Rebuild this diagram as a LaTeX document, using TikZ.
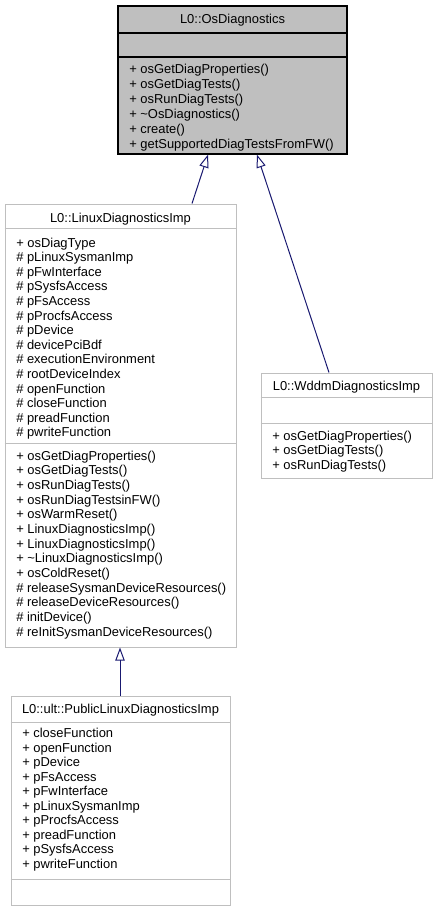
\documentclass[tikz,border=0pt]{standalone}
\usepackage{fontspec}
\setmainfont{Liberation Sans}
\usetikzlibrary{arrows.meta,fit}

\definecolor{grey75}{HTML}{BFBFBF}
\definecolor{midnightblue}{HTML}{191970}

\tikzset{
  classbox/.style={draw=grey75, fill=white, line width=0.75pt, inner sep=0pt},
  mainbox/.style={draw=black, fill=grey75, line width=0.9pt, inner sep=0pt},
  classname/.style={anchor=base, inner sep=0pt, font=\fontsize{9.7}{11}\selectfont},
  member/.style={anchor=base west, inner sep=0pt, font=\fontsize{9.7}{11}\selectfont},
  inherit/.style={draw=midnightblue, line width=0.75pt, -{Triangle[open, length=9.75pt, width=7pt]}}
}

\begin{document}
\begin{tikzpicture}[x=0.75pt, y=-0.75pt]

\useasboundingbox (0,0) rectangle (437,911);

% L0::OsDiagnostics
\node[mainbox, fit={(118,6) (347,154)}] (os) {};
\draw[line width=0.9pt] (os.west |- 0,33) -- (os.east |- 0,33);
\draw[line width=0.9pt] (os.west |- 0,57) -- (os.east |- 0,57);
\node[classname] (os-name) at (232.5,23) {L0::OsDiagnostics};
\foreach \m [count=\i] in {+ osGetDiagProperties(), + osGetDiagTests(),
    + osRunDiagTests(), + \textasciitilde OsDiagnostics(), + create(),
    + getSupportedDiagTestsFromFW()}
  \node[member] (os-m\i) at (129,{73+15*(\i-1)}) {\m};

% L0::LinuxDiagnosticsImp
\node[classbox, fit={(5,204) (236,647)}] (linux) {};
\draw[grey75, line width=0.75pt] (linux.west |- 0,228) -- (linux.east |- 0,228);
\draw[grey75, line width=0.75pt] (linux.west |- 0,443) -- (linux.east |- 0,443);
\node[classname] (linux-name) at (120.5,222) {L0::LinuxDiagnosticsImp};
\foreach \a [count=\i] in {+ osDiagType, \# pLinuxSysmanImp, \# pFwInterface,
    \# pSysfsAccess, \# pFsAccess, \# pProcfsAccess, \# pDevice,
    \# devicePciBdf, \# executionEnvironment, \# rootDeviceIndex,
    \# openFunction, \# closeFunction, \# preadFunction, \# pwriteFunction}
  \node[member] (linux-a\i) at (16,{247+14.6*(\i-1)}) {\a};
\foreach \m [count=\i] in {+ osGetDiagProperties(), + osGetDiagTests(),
    + osRunDiagTests(), + osRunDiagTestsinFW(), + osWarmReset(),
    + LinuxDiagnosticsImp(), + LinuxDiagnosticsImp(),
    + \textasciitilde LinuxDiagnosticsImp(), + osColdReset(),
    \# releaseSysmanDeviceResources(), \# releaseDeviceResources(),
    \# initDevice(), \# reInitSysmanDeviceResources()}
  \node[member] (linux-m\i) at (16,{460+14.67*(\i-1)}) {\m};

% L0::WddmDiagnosticsImp
\node[classbox, fit={(261,373) (432,478)}] (wddm) {};
\draw[grey75, line width=0.75pt] (wddm.west |- 0,397) -- (wddm.east |- 0,397);
\draw[grey75, line width=0.75pt] (wddm.west |- 0,423) -- (wddm.east |- 0,423);
\node[classname] (wddm-name) at (346.5,390) {L0::WddmDiagnosticsImp};
\foreach \m [count=\i] in {+ osGetDiagProperties(), + osGetDiagTests(),
    + osRunDiagTests()}
  \node[member] (wddm-m\i) at (272,{440+14.6*(\i-1)}) {\m};

% L0::ult::PublicLinuxDiagnosticsImp
\node[classbox, fit={(11,696) (230,905)}] (public) {};
\draw[grey75, line width=0.75pt] (public.west |- 0,722) -- (public.east |- 0,722);
\draw[grey75, line width=0.75pt] (public.west |- 0,879) -- (public.east |- 0,879);
\node[classname] (public-name) at (120.5,713) {L0::ult::PublicLinuxDiagnosticsImp};
\foreach \a [count=\i] in {+ closeFunction, + openFunction, + pDevice,
    + pFsAccess, + pFwInterface, + pLinuxSysmanImp, + pProcfsAccess,
    + preadFunction, + pSysfsAccess, + pwriteFunction}
  \node[member] (public-a\i) at (22,{737.5+14.55*(\i-1)}) {\a};

% inheritance
\draw[inherit] (linux.north -| 192,0) -- (os.south -| 208,0);
\draw[inherit] (wddm.north -| 329,0) -- (os.south -| 257,0);
\draw[inherit] (public.north -| 120,0) -- (linux.south -| 120,0);

\end{tikzpicture}
\end{document}
